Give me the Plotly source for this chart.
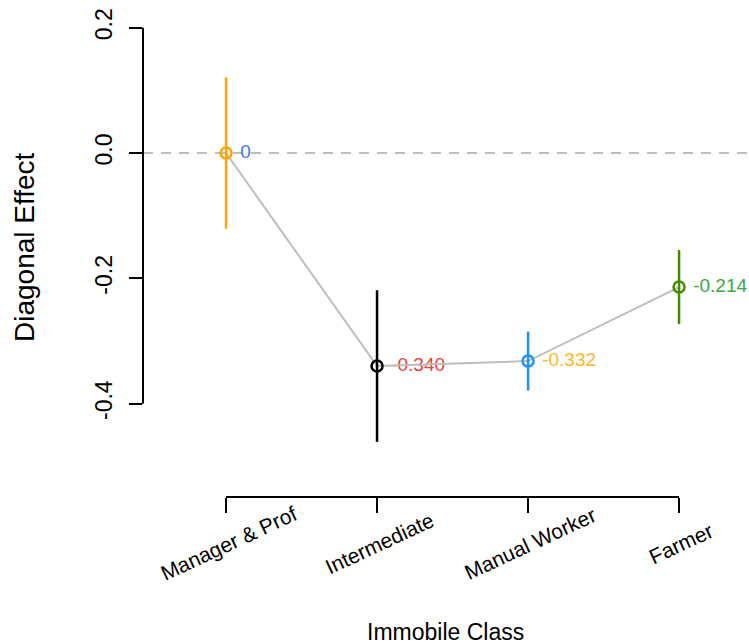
import plotly.graph_objects as go

categories = ["Manager & Prof", "Intermediate", "Manual Worker", "Farmer"]
positions = [1, 2, 3, 4]
estimates = [0.0, -0.340, -0.332, -0.214]
errors = [0.121, 0.121, 0.047, 0.059]
value_labels = ["0", "-0.340", "-0.332", "-0.214"]
point_colors = ["#FFA500", "#000000", "#1E90FF", "#458B00"]
label_colors = ["#3E78F0", "#F03C3C", "#FFB61E", "#3DA63D"]
y_ticks = [-0.4, -0.2, 0.0, 0.2]
y_ticktext = ["-0.4", "-0.2", "0.0", "0.2"]

FONT = "Liberation Sans, Arial, Helvetica, sans-serif"

fig = go.Figure()

# value labels (drawn first so the grey line passes over them)
fig.add_trace(go.Scatter(
    x=positions, y=estimates, mode="markers+text",
    marker=dict(size=21, color="rgba(0,0,0,0)"),
    text=value_labels, textposition="middle right",
    textfont=dict(family=FONT, size=19, color=label_colors),
    cliponaxis=False, hoverinfo="skip", showlegend=False,
))

# grey connecting line
fig.add_trace(go.Scatter(
    x=positions, y=estimates, mode="lines",
    line=dict(color="#BEBEBE", width=2),
    hoverinfo="skip", showlegend=False,
))

# points with error bars
for xi, yi, ei, ci in zip(positions, estimates, errors, point_colors):
    fig.add_trace(go.Scatter(
        x=[xi], y=[yi], mode="markers",
        marker=dict(symbol="circle-open", size=11, color=ci, line=dict(width=2.5, color=ci)),
        error_y=dict(type="data", array=[ei], visible=True, color=ci, thickness=2.5, width=0),
        cliponaxis=False, showlegend=False,
    ))

shapes = [
    # dashed reference line at 0
    dict(type="line", xref="paper", yref="y", x0=0, x1=1, y0=0, y1=0,
         line=dict(color="#BEBEBE", width=2, dash="10px,8px"), layer="below"),
    # y axis line (tick range only)
    dict(type="line", xref="paper", yref="y", x0=0, x1=0, y0=min(y_ticks), y1=max(y_ticks),
         line=dict(color="black", width=2)),
    # x axis line (tick range only)
    dict(type="line", xref="x", yref="paper", x0=min(positions), x1=max(positions), y0=0, y1=0,
         line=dict(color="black", width=2)),
]

annotations = []
for xi, cat in zip(positions, categories):
    annotations.append(dict(
        x=xi, y=0, xref="x", yref="paper", text=cat, showarrow=False,
        textangle=-25, xanchor="center", yanchor="middle", xshift=2, yshift=-46,
        font=dict(family=FONT, size=21, color="black"),
    ))
annotations.append(dict(
    x=0.5, y=0, xref="paper", yref="paper", text="Immobile Class", showarrow=False,
    xanchor="center", yanchor="middle", yshift=-135,
    font=dict(family=FONT, size=23, color="black"),
))
annotations.append(dict(
    x=0, y=-0.15, xref="paper", yref="y", text="Diagonal Effect", showarrow=False,
    textangle=-90, xanchor="center", yanchor="middle", xshift=-118,
    font=dict(family=FONT, size=28, color="black"),
))

fig.update_layout(
    width=749, height=644,
    margin=dict(l=143, r=2, t=3, b=147, autoexpand=False),
    paper_bgcolor="white", plot_bgcolor="white",
    shapes=shapes, annotations=annotations,
    font=dict(family=FONT, color="black"),
    xaxis=dict(
        range=[0.45, 4.45], tickvals=positions, showticklabels=False,
        ticks="outside", ticklen=15, tickwidth=2, tickcolor="black",
        showgrid=False, zeroline=False, showline=False, automargin=False,
    ),
    yaxis=dict(
        range=[-0.549, 0.2394], tickvals=y_ticks, ticktext=y_ticktext,
        tickangle=-90, ticks="outside", ticklen=13, tickwidth=2, tickcolor="black",
        tickfont=dict(family=FONT, size=23, color="black"), ticklabelstandoff=8,
        showgrid=False, zeroline=False, showline=False, automargin=False,
    ),
)

fig.write_html(
    "out.html",
    config={"displayModeBar": False},
    post_script="document.body.style.margin='0';document.documentElement.style.overflow='hidden';",
)
